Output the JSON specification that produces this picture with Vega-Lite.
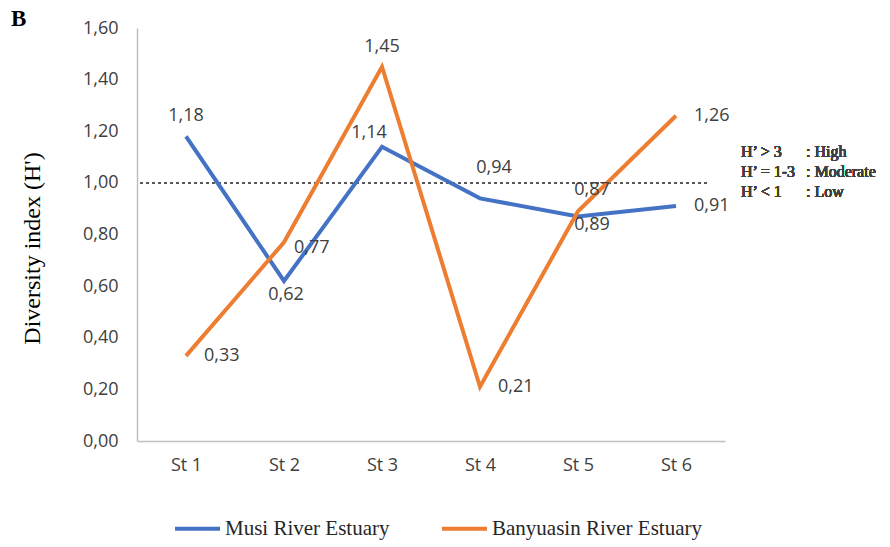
{
  "$schema": "https://vega.github.io/schema/vega-lite/v6.json",
  "autosize": {"type": "none"},
  "width": 588,
  "height": 413,
  "padding": {"left": 137, "top": 28, "right": 165, "bottom": 106},
  "background": "white",
  "config": {
    "view": {"stroke": null},
    "locale": {"number": {"decimal": ",", "thousands": ".", "grouping": [3], "currency": ["", ""]}}
  },
  "title": {"text": "B", "anchor": "start", "frame": "group", "dx": -126, "offset": -12, "font": "Liberation Serif", "fontWeight": "bold", "fontSize": 23, "color": "#000000"},
  "data": {"values": [
    {"station": "St 1", "series": "Musi River Estuary", "h": 1.18},
    {"station": "St 2", "series": "Musi River Estuary", "h": 0.62},
    {"station": "St 3", "series": "Musi River Estuary", "h": 1.14},
    {"station": "St 4", "series": "Musi River Estuary", "h": 0.94},
    {"station": "St 5", "series": "Musi River Estuary", "h": 0.87},
    {"station": "St 6", "series": "Musi River Estuary", "h": 0.91},
    {"station": "St 1", "series": "Banyuasin River Estuary", "h": 0.33},
    {"station": "St 2", "series": "Banyuasin River Estuary", "h": 0.77},
    {"station": "St 3", "series": "Banyuasin River Estuary", "h": 1.45},
    {"station": "St 4", "series": "Banyuasin River Estuary", "h": 0.21},
    {"station": "St 5", "series": "Banyuasin River Estuary", "h": 0.89},
    {"station": "St 6", "series": "Banyuasin River Estuary", "h": 1.26}
  ]},
  "encoding": {
    "x": {"field": "station", "type": "ordinal", "scale": {"type": "point", "padding": 0.5},
      "axis": {"title": null, "labelAngle": 0, "ticks": false, "domainColor": "#bfbfbf", "domainWidth": 1.5, "labelFont": "Open Sans", "labelFontSize": 18, "labelColor": "#404040", "labelPadding": 15}},
    "y": {"field": "h", "type": "quantitative", "scale": {"domain": [0, 1.6]},
      "axis": {"title": "Diversity index (H')", "values": [0, 0.2, 0.4, 0.6, 0.8, 1.0, 1.2, 1.4, 1.6], "format": ".2f", "grid": false, "ticks": false, "domainColor": "#bfbfbf", "domainWidth": 1.5, "labelFont": "Open Sans", "labelFontSize": 18, "labelColor": "#404040", "labelPadding": 19, "titleFont": "Liberation Serif", "titleFontSize": 24, "titleFontWeight": "normal", "titleColor": "#000000", "titlePadding": 38, "titleY": 220}}
  },
  "layer": [
    {"mark": {"type": "rule", "strokeDash": [3, 3], "color": "#595959", "strokeWidth": 1.2}, "encoding": {"x": {"value": 3}, "x2": {"value": 570}, "y": {"datum": 1.0}}},
    {"mark": {"type": "line", "strokeWidth": 4},
      "encoding": {"color": {"field": "series", "type": "nominal", "sort": ["Musi River Estuary", "Banyuasin River Estuary"],
        "scale": {"domain": ["Musi River Estuary", "Banyuasin River Estuary"], "range": ["#4472C4", "#ED7D31"]},
        "legend": {"title": null, "orient": "none", "legendX": 36, "legendY": 476, "direction": "horizontal", "symbolType": "stroke", "symbolSize": 2025, "symbolStrokeWidth": 4, "labelFont": "Liberation Serif", "labelFontSize": 21, "labelColor": "#262626", "labelOffset": 3, "columnPadding": 44, "labelLimit": 400}}}},
    {"transform": [{"filter": "(datum.series == 'Musi River Estuary' && datum.station == 'St 1') || (datum.series == 'Banyuasin River Estuary' && datum.station == 'St 3')"}],
      "mark": {"type": "text", "dy": -20, "font": "Open Sans", "fontSize": 18, "color": "#404040"}, "encoding": {"text": {"field": "h", "format": ".2f"}}},
    {"transform": [{"filter": "datum.series == 'Musi River Estuary' && datum.station == 'St 3'"}],
      "mark": {"type": "text", "dx": -13, "dy": -14, "font": "Open Sans", "fontSize": 18, "color": "#404040"}, "encoding": {"text": {"field": "h", "format": ".2f"}}},
    {"transform": [{"filter": "datum.series == 'Musi River Estuary' && datum.station == 'St 4'"}],
      "mark": {"type": "text", "dx": 14, "dy": -30, "font": "Open Sans", "fontSize": 18, "color": "#404040"}, "encoding": {"text": {"field": "h", "format": ".2f"}}},
    {"transform": [{"filter": "datum.series == 'Musi River Estuary' && datum.station == 'St 5'"}],
      "mark": {"type": "text", "dx": 14, "dy": -26, "font": "Open Sans", "fontSize": 18, "color": "#404040"}, "encoding": {"text": {"field": "h", "format": ".2f"}}},
    {"transform": [{"filter": "datum.series == 'Musi River Estuary' && datum.station == 'St 2'"}],
      "mark": {"type": "text", "dx": 2, "dy": 14, "font": "Open Sans", "fontSize": 18, "color": "#404040"}, "encoding": {"text": {"field": "h", "format": ".2f"}}},
    {"transform": [{"filter": "datum.series == 'Banyuasin River Estuary' && datum.station == 'St 5'"}],
      "mark": {"type": "text", "dx": 14, "dy": 14, "font": "Open Sans", "fontSize": 18, "color": "#404040"}, "encoding": {"text": {"field": "h", "format": ".2f"}}},
    {"transform": [{"filter": "(datum.series == 'Banyuasin River Estuary' && (datum.station == 'St 1' || datum.station == 'St 4' || datum.station == 'St 6')) || (datum.series == 'Musi River Estuary' && datum.station == 'St 6')"}],
      "mark": {"type": "text", "align": "left", "dx": 18, "font": "Open Sans", "fontSize": 18, "color": "#404040"}, "encoding": {"text": {"field": "h", "format": ".2f"}}},
    {"transform": [{"filter": "datum.series == 'Banyuasin River Estuary' && datum.station == 'St 2'"}],
      "mark": {"type": "text", "align": "left", "dx": 10, "dy": 6, "font": "Open Sans", "fontSize": 18, "color": "#404040"}, "encoding": {"text": {"field": "h", "format": ".2f"}}},
    {"mark": {"type": "text", "align": "left", "baseline": "middle", "dx": 65, "lineHeight": 20, "font": "Liberation Serif", "fontSize": 16, "color": "#404040"},
      "encoding": {"x": {"datum": "St 6"}, "y": {"datum": 1.12}, "text": {"value": ["H’ > 3", "H’ = 1-3", "H’ < 1"]}}},
    {"mark": {"type": "text", "align": "left", "baseline": "middle", "dx": 130, "lineHeight": 20, "font": "Liberation Serif", "fontSize": 16, "color": "#404040"},
      "encoding": {"x": {"datum": "St 6"}, "y": {"datum": 1.12}, "text": {"value": [": High", ": Moderate", ": Low"]}}}
  ]
}
